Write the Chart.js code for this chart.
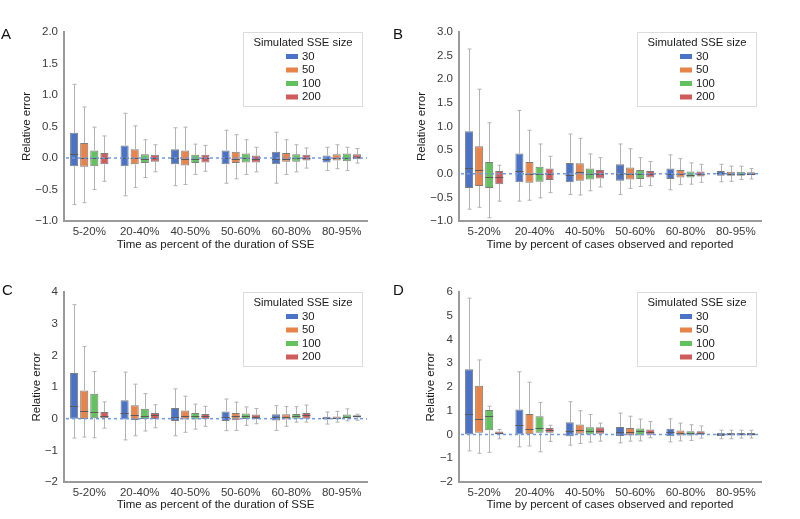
<!DOCTYPE html>
<html><head><meta charset="utf-8">
<script src="https://cdn.jsdelivr.net/npm/chart.js@4/dist/chart.umd.min.js"></script>
<style>
html,body{margin:0;padding:0;background:#fff;}
#wrap{position:relative;width:800px;height:519px;overflow:hidden;background:#fff;}
.pan{position:absolute;width:400px;height:260px;}
.lbl{position:absolute;font-family:"Liberation Sans",Arial,sans-serif;font-size:15px;line-height:15px;color:#111;}
</style></head><body>
<div id="wrap">
  <div class="pan" style="left:0;top:0"><canvas id="cA" width="400" height="260"></canvas></div>
  <div class="pan" style="left:400px;top:0"><canvas id="cB" width="400" height="260"></canvas></div>
  <div class="pan" style="left:0;top:260px"><canvas id="cC" width="400" height="260"></canvas></div>
  <div class="pan" style="left:400px;top:260px"><canvas id="cD" width="400" height="260"></canvas></div>
  <div class="lbl" style="left:1px;top:26px">A</div>
  <div class="lbl" style="left:393px;top:26px">B</div>
  <div class="lbl" style="left:2px;top:282px">C</div>
  <div class="lbl" style="left:393px;top:282px">D</div>
</div>
<script>
const categories = ['5-20%','20-40%','40-50%','50-60%','60-80%','80-95%'];
const sizes = ['30','50','100','200'];
const legendTitle = 'Simulated SSE size';
const yTitle = 'Relative error';
const xTitleDuration = 'Time as percent of the duration of SSE';
const xTitleCases = 'Time by percent of cases observed and reported';
const sizeColors = ['#4a72c6','#e8834a','#63c25e','#cf5b5b'];

// Panel A (rows: size 30, 50, 100, 200; columns: categories)
const A_lo  = [[-0.74,-0.60,-0.44,-0.40,-0.40,-0.20],[-0.71,-0.47,-0.42,-0.33,-0.26,-0.17],[-0.50,-0.31,-0.26,-0.26,-0.22,-0.20],[-0.37,-0.22,-0.21,-0.22,-0.16,-0.08]];
const A_q1  = [[-0.13,-0.13,-0.10,-0.10,-0.10,-0.07],[-0.14,-0.10,-0.12,-0.08,-0.06,-0.04],[-0.13,-0.08,-0.08,-0.07,-0.06,-0.05],[-0.10,-0.06,-0.07,-0.07,-0.04,-0.02]];
const A_med = [[0.06,0.00,0.00,0.00,-0.02,-0.02],[0.00,0.00,-0.01,-0.02,-0.01,0.00],[0.00,-0.01,-0.02,0.00,0.00,0.00],[0.00,0.00,0.00,-0.02,0.00,0.02]];
const A_q3  = [[0.40,0.20,0.14,0.12,0.10,0.04],[0.24,0.14,0.12,0.10,0.08,0.06],[0.12,0.06,0.05,0.07,0.06,0.07],[0.08,0.05,0.05,0.04,0.05,0.06]];
const A_hi  = [[1.17,0.71,0.48,0.44,0.41,0.17],[0.81,0.51,0.49,0.37,0.29,0.21],[0.49,0.29,0.22,0.29,0.21,0.17],[0.35,0.21,0.20,0.17,0.16,0.15]];

// Panel B
const B_lo  = [[-0.75,-0.58,-0.44,-0.44,-0.34,-0.17],[-0.71,-0.56,-0.45,-0.31,-0.23,-0.16],[-0.93,-0.51,-0.36,-0.27,-0.22,-0.12],[-0.58,-0.40,-0.28,-0.25,-0.18,-0.11]];
const B_q1  = [[-0.30,-0.18,-0.18,-0.15,-0.11,-0.04],[-0.26,-0.19,-0.15,-0.12,-0.08,-0.04],[-0.30,-0.17,-0.12,-0.11,-0.08,-0.04],[-0.22,-0.13,-0.10,-0.08,-0.06,-0.03]];
const B_med = [[0.13,0.06,-0.02,0.00,0.00,0.01],[0.07,0.00,0.03,0.00,-0.01,0.00],[-0.06,0.00,0.00,0.00,-0.02,0.00],[-0.06,0.00,0.00,0.00,0.00,0.00]];
const B_q3  = [[0.90,0.43,0.23,0.20,0.11,0.06],[0.58,0.25,0.22,0.13,0.08,0.04],[0.25,0.15,0.11,0.08,0.05,0.04],[0.06,0.11,0.08,0.06,0.05,0.03]];
const B_hi  = [[2.64,1.34,0.84,0.63,0.40,0.20],[1.79,0.92,0.75,0.53,0.32,0.16],[1.08,0.63,0.42,0.34,0.23,0.16],[0.18,0.37,0.34,0.26,0.20,0.11]];

// Panel C
const C_lo  = [[-0.61,-0.67,-0.54,-0.38,-0.37,-0.17],[-0.58,-0.54,-0.43,-0.37,-0.24,-0.11],[-0.60,-0.39,-0.33,-0.21,-0.11,-0.07],[-0.30,-0.29,-0.24,-0.16,-0.11,-0.05]];
const C_q1  = [[0.00,-0.03,-0.07,-0.07,-0.06,-0.03],[-0.01,-0.04,-0.03,-0.05,-0.03,-0.02],[0.01,-0.01,-0.03,-0.01,0.00,0.01],[0.01,-0.01,-0.02,-0.01,0.00,0.04]];
const C_med = [[0.41,0.17,0.05,0.06,0.05,0.02],[0.23,0.13,0.07,0.07,0.05,0.02],[0.22,0.07,0.07,0.07,0.07,0.05],[0.09,0.11,0.07,0.06,0.11,0.08]];
const C_q3  = [[1.44,0.58,0.34,0.23,0.14,0.06],[0.89,0.42,0.26,0.18,0.14,0.07],[0.79,0.31,0.18,0.16,0.15,0.13],[0.21,0.18,0.15,0.13,0.18,0.11]];
const C_hi  = [[3.60,1.47,0.94,0.62,0.41,0.21],[2.28,1.09,0.71,0.52,0.38,0.23],[1.49,0.79,0.46,0.37,0.38,0.31],[0.53,0.44,0.39,0.32,0.43,0.14]];

// Panel D
const D_lo  = [[-0.69,-0.52,-0.45,-0.35,-0.31,-0.18],[-0.79,-0.48,-0.38,-0.28,-0.27,-0.18],[-0.75,-0.73,-0.32,-0.27,-0.25,-0.15],[-0.18,-0.29,-0.28,-0.14,-0.15,-0.15]];
const D_q1  = [[0.00,0.00,-0.07,-0.06,-0.07,-0.06],[0.07,0.01,0.03,-0.04,-0.04,-0.04],[0.18,0.07,0.00,-0.04,-0.04,-0.04],[0.00,0.07,0.03,-0.01,-0.01,-0.04]];
const D_med = [[0.87,0.41,0.15,0.10,0.10,0.03],[0.65,0.24,0.17,0.10,0.07,0.01],[0.80,0.29,0.15,0.13,0.07,0.01],[0.07,0.18,0.15,0.10,0.06,0.01]];
const D_q3  = [[2.75,1.05,0.52,0.32,0.24,0.07],[2.05,0.86,0.42,0.27,0.17,0.06],[1.03,0.77,0.31,0.25,0.14,0.06],[0.13,0.27,0.31,0.21,0.14,0.06]];
const D_hi  = [[5.74,2.64,1.38,0.90,0.66,0.18],[3.14,2.20,1.00,0.77,0.48,0.18],[1.19,1.35,0.84,0.65,0.41,0.18],[0.21,0.39,0.48,0.55,0.36,0.18]];

const FONT = '"Liberation Sans", Arial, Helvetica, sans-serif';

const boxExtras = {
  id: 'boxExtras',
  beforeDatasetsDraw(chart) {
    const ctx = chart.ctx, ys = chart.scales.y;
    ctx.save();
    ctx.strokeStyle = '#b3b3b3';
    ctx.lineWidth = 1;
    chart.data.datasets.forEach((ds, i) => {
      const meta = chart.getDatasetMeta(i);
      meta.data.forEach((bar, j) => {
        const x = Math.round(bar.x) + 0.5;
        const cap = bar.width * 0.25;
        const yLo = ys.getPixelForValue(ds.stats.lo[j]);
        const yHi = ys.getPixelForValue(ds.stats.hi[j]);
        const yQ1 = ys.getPixelForValue(ds.data[j][0]);
        const yQ3 = ys.getPixelForValue(ds.data[j][1]);
        ctx.beginPath();
        ctx.moveTo(x, yHi); ctx.lineTo(x, yQ3);
        ctx.moveTo(x, yQ1); ctx.lineTo(x, yLo);
        ctx.moveTo(x - cap, yHi); ctx.lineTo(x + cap, yHi);
        ctx.moveTo(x - cap, yLo); ctx.lineTo(x + cap, yLo);
        ctx.stroke();
      });
    });
    ctx.restore();
  },
  afterDatasetsDraw(chart) {
    const ctx = chart.ctx, ys = chart.scales.y, ca = chart.chartArea;
    ctx.save();
    // medians
    ctx.strokeStyle = '#5a5a5a';
    ctx.lineWidth = 1;
    chart.data.datasets.forEach((ds, i) => {
      const meta = chart.getDatasetMeta(i);
      meta.data.forEach((bar, j) => {
        const ym = Math.round(ys.getPixelForValue(ds.stats.med[j])) + 0.5;
        ctx.beginPath();
        ctx.moveTo(bar.x - bar.width / 2, ym);
        ctx.lineTo(bar.x + bar.width / 2, ym);
        ctx.stroke();
      });
    });
    // zero reference line
    const y0 = ys.getPixelForValue(0);
    ctx.strokeStyle = '#6f9be6';
    ctx.lineWidth = 1.5;
    ctx.setLineDash([3, 3]);
    ctx.beginPath();
    ctx.moveTo(ca.left + 2, y0);
    ctx.lineTo(ca.right, y0);
    ctx.stroke();
    ctx.restore();
  },
  afterDraw(chart) {
    const ctx = chart.ctx, ca = chart.chartArea;
    const w = 119, h = 74;
    const bx = Math.round(ca.right - 5 - w) + 0.5, by = Math.round(ca.top) + 0.5;
    ctx.save();
    ctx.fillStyle = 'rgba(255,255,255,0.92)';
    ctx.strokeStyle = '#dcdcdc';
    ctx.lineWidth = 1;
    ctx.fillRect(bx, by, w, h);
    ctx.strokeRect(bx, by, w, h);
    ctx.font = '11.3px ' + FONT;
    ctx.fillStyle = '#1a1a1a';
    ctx.textAlign = 'center';
    ctx.textBaseline = 'middle';
    const cx = bx + w / 2;
    ctx.fillText(legendTitle, cx, by + 10);
    ctx.textAlign = 'left';
    chart.data.datasets.forEach((ds, i) => {
      const yy = by + 24 + i * 13.5;
      ctx.fillStyle = ds.backgroundColor;
      ctx.fillRect(cx - 17, yy - 2.5, 12, 5);
      ctx.fillStyle = '#1a1a1a';
      ctx.fillText(ds.label, cx - 1, yy);
    });
    ctx.restore();
  }
};

function fmtTick(v, dec) {
  let s = Math.abs(v) < 1e-9 ? (0).toFixed(dec) : v.toFixed(dec);
  return s.replace('-', '\u2212');
}

function makeChart(id, lo, q1, med, q3, hi, yMin, yMax, step, dec, xTitle, g) {
  const datasets = sizes.map((s, i) => ({
    label: s,
    data: categories.map((c, j) => [q1[i][j], q3[i][j]]),
    stats: { lo: lo[i], med: med[i], hi: hi[i] },
    backgroundColor: sizeColors[i],
    borderColor: '#7d7d7d',
    borderWidth: 1,
    borderSkipped: false,
    categoryPercentage: 0.8,
    barPercentage: 0.8
  }));
  return new Chart(document.getElementById(id), {
    type: 'bar',
    data: { labels: categories, datasets },
    options: {
      responsive: false,
      animation: false,
      devicePixelRatio: 1,
      layout: { padding: { left: 0, right: g.right, top: 32, bottom: 0 } },
      plugins: { legend: { display: false }, tooltip: { enabled: false } },
      scales: {
        x: {
          grid: { display: false, drawTicks: false },
          border: { display: true, color: '#9a9a9a', width: 2 },
          ticks: { color: '#3a3a3a', font: { family: FONT, size: 11.5 }, padding: 4, maxRotation: 0, autoSkip: false },
          title: { display: true, text: xTitle, color: '#1a1a1a', font: { family: FONT, size: 11.5 }, padding: { top: 0, bottom: 8 } },
          afterFit(s) { s.height = g.xh; }
        },
        y: {
          min: yMin, max: yMax,
          grid: { display: false, drawTicks: false },
          border: { display: true, color: '#9a9a9a', width: 2 },
          ticks: { stepSize: step, color: '#3a3a3a', font: { family: FONT, size: 11.5 }, padding: 6,
                   callback: (v) => fmtTick(v, dec) },
          title: { display: true, text: yTitle, color: '#1a1a1a', font: { family: FONT, size: 11.5 }, padding: { top: g.yt, bottom: 0 } },
          afterFit(s) { s.width = g.yw; }
        }
      }
    },
    plugins: [boxExtras]
  });
}

makeChart('cA', A_lo, A_q1, A_med, A_q3, A_hi, -1, 2, 0.5, 1, xTitleDuration, { yw: 64, right: 33, xh: 39, yt: 20 });
makeChart('cB', B_lo, B_q1, B_med, B_q3, B_hi, -1, 3, 0.5, 1, xTitleCases, { yw: 59, right: 39, xh: 39, yt: 15 });
makeChart('cC', C_lo, C_q1, C_med, C_q3, C_hi, -2, 4, 1, 0, xTitleDuration, { yw: 64, right: 33, xh: 38, yt: 30 });
makeChart('cD', D_lo, D_q1, D_med, D_q3, D_hi, -2, 6, 1, 0, xTitleCases, { yw: 59, right: 39, xh: 38, yt: 24 });
</script>
</body></html>
